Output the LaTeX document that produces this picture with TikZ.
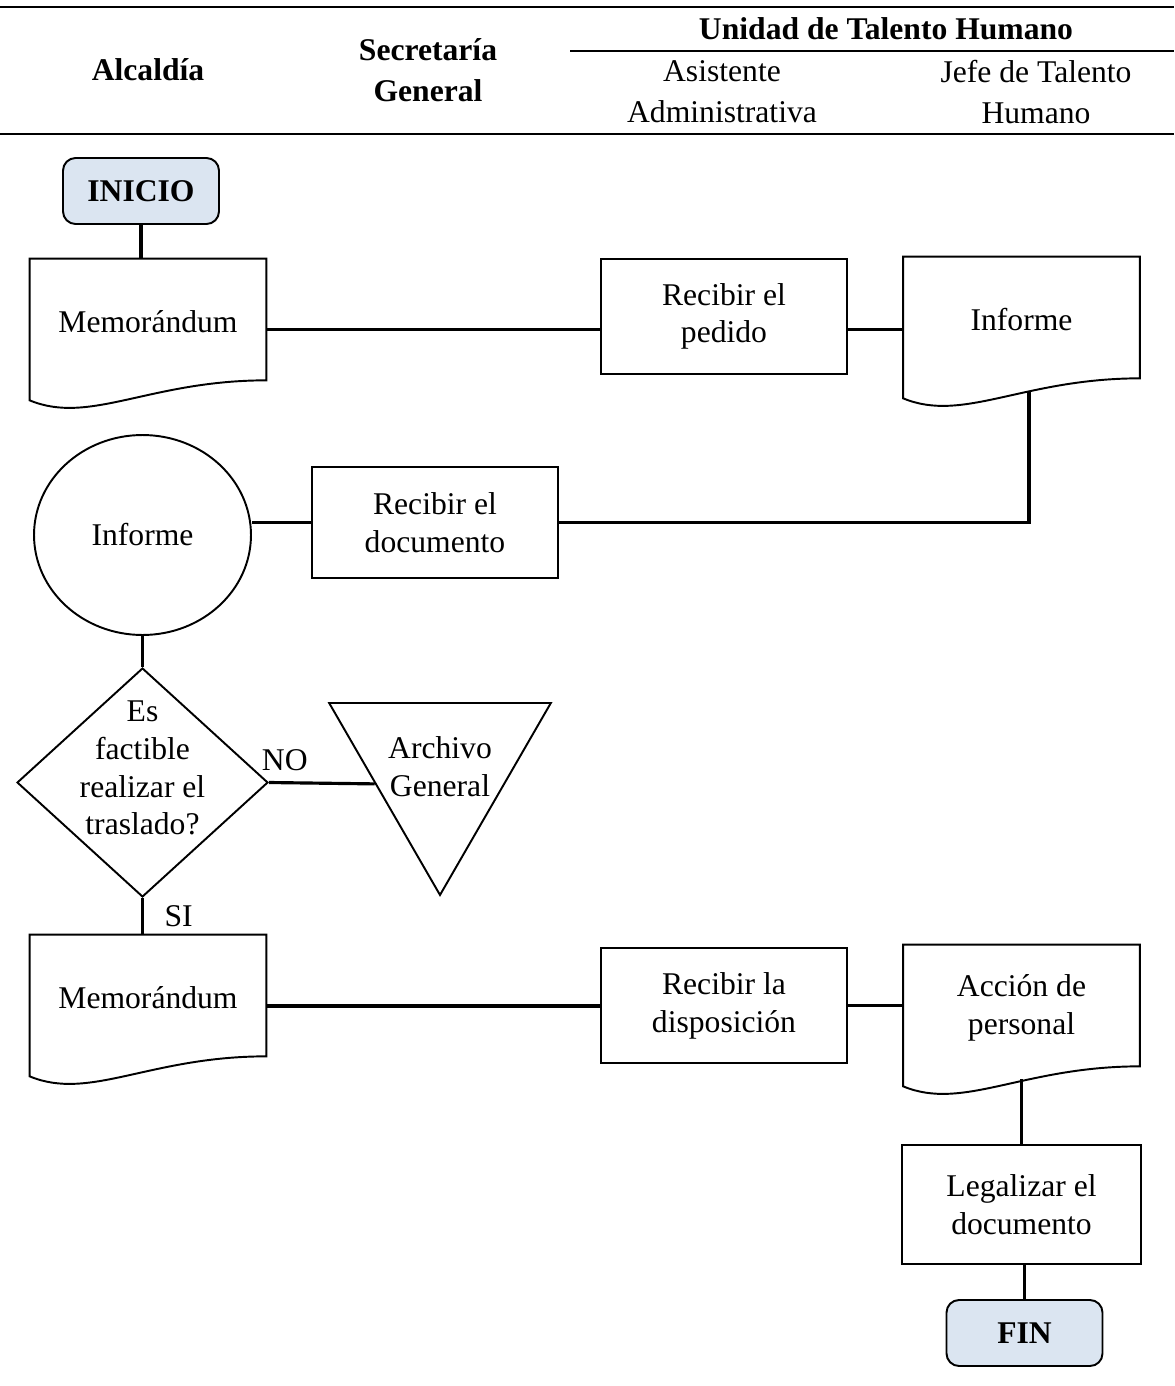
\documentclass[tikz,border=0pt]{standalone}
\usepackage{fontspec}
\setmainfont{Liberation Serif}
\usepackage{tikz}
\usetikzlibrary{positioning,shapes.geometric,calc}
\definecolor{startfill}{HTML}{DBE5F1}
\tikzstyle{shapeline} = [line width=1.1pt]
\tikzstyle{process} = [rectangle, draw=black, shapeline, minimum width=4.92cm, minimum height=2.3cm, text centered, align=center]
\tikzstyle{terminal} = [rectangle, rounded corners=0.25cm, draw=black, fill=startfill, shapeline, minimum width=3.12cm, minimum height=1.32cm, font=\bfseries]
\tikzstyle{doc} = [rectangle, minimum width=4.72cm, minimum height=2.5cm, text centered, align=center]
\tikzstyle{decision} = [diamond, draw=black, shapeline, minimum width=5.02cm, minimum height=4.58cm, inner sep=0pt]
\tikzstyle{archive} = [regular polygon, regular polygon sides=3, shape border rotate=180, draw=black, shapeline, minimum size=5.12cm, inner sep=0pt]
\tikzstyle{storage} = [ellipse, draw=black, shapeline, minimum width=4.34cm, minimum height=4cm]
\tikzstyle{line} = [draw, line width=1.8pt]
\tikzstyle{rule} = [line width=1.7pt]
\tikzstyle{head} = [align=center, font=\fontsize{18}{23.5}\selectfont]
\tikzstyle{headbold} = [align=center, font=\fontsize{18}{23.5}\selectfont\bfseries]
% document symbol: box with a wavy bottom edge
\newcommand{\docshape}[1]{\draw[shapeline] (#1.north west) -- (#1.north east) -- ([yshift=0.08cm]#1.south east)
  .. controls ([xshift=2.4cm,yshift=0.08cm]#1.south west) and ([xshift=1.2cm,yshift=-0.82cm]#1.south west) .. ([yshift=-0.32cm]#1.south west) -- cycle;}

\begin{document}
\begin{tikzpicture}[x=0.02cm, y=-0.02cm, execute at begin picture={\fontsize{18}{21.5}\selectfont}]
			\useasboundingbox (0,0) rectangle (1174,1386);
			% Header
			\draw[rule] (0,7) -- (1174,7);
			\draw[rule] (570,51) -- (1174,51);
			\draw[rule] (0,134) -- (1174,134);
			\node[headbold] (alc) at (148,70) {Alcaldía};
			\node[headbold] (sec) at (428,70) {Secretaría\\General};
			\node[headbold] (uth) at (886,29) {Unidad de Talento Humano};
			\node[head] (asis) at (722,92) {Asistente\\Administrativa};
			\node[head] (jefe) at (1036,92) {Jefe de Talento\\Humano};
			% Place nodes
			\node[terminal] (inicio) at (141,191) {INICIO};
			\node[doc] (memo1) at (148,321.5) {Memorándum};
			\node[process] (recped) at (724,316.5) {Recibir el\\pedido};
			\node[doc] (inf) at (1021.5,319.5) {Informe};
			\node[storage] (circ) at (142.5,535) {Informe};
			\node[process, minimum height=2.22cm] (recdoc) at (435,522.5) {Recibir el\\documento};
			\node[decision, label={[align=center, yshift=0.29cm]center:{Es\\factible\\realizar el\\traslado?}}] (dec) at (142.5,782.5) {};
			\node[archive, label={[align=center]center:{Archivo\\General}}] (arch) at (440,767) {};
			\node[doc] (memo2) at (148,997.5) {Memorándum};
			\node[process] (recdisp) at (724,1005.5) {Recibir la\\disposición};
			\node[doc] (acc) at (1021.5,1007.5) {Acción de\\personal};
			\node[process, minimum width=4.78cm, minimum height=2.38cm] (legal) at (1021.5,1204.5) {Legalizar el\\documento};
			\node[terminal] (fin) at (1024.5,1333) {FIN};
			\docshape{memo1}
			\docshape{inf}
			\docshape{memo2}
			\docshape{acc}
			% Draw edges
			\path [line] (inicio.south) -- (inicio.south |- memo1.north);
			\path [line] ([yshift=-0.16cm]memo1.east) -- ([yshift=-0.16cm]memo1.east -| recped.west);
			\path [line] ([yshift=-0.2cm]inf.west -| recped.east) -- ([yshift=-0.2cm]inf.west);
			\path [line] ([xshift=0.15cm,yshift=-0.18cm]inf.south) |- (recdoc.east);
			\path [line] (recdoc.west) -- (recdoc.west -| circ.east);
			\path [line] (circ.south) -- (dec.north);
			\path [line] (dec.east) -- node [above, pos=0.15] {NO} ($(arch.corner 3)!0.42!(arch.corner 1)$);
			\path [line] (dec.south) -- node [right=0.2cm] {SI} (dec.south |- memo2.north);
			\path [line] ([yshift=-0.17cm]memo2.east) -- ([yshift=-0.17cm]memo2.east -| recdisp.west);
			\path [line] (recdisp.east) -- (recdisp.east -| acc.west);
			\path [line] ([yshift=-0.18cm]acc.south) -- (legal.north);
			\path [line] (fin.north |- legal.south) -- (fin.north);
\end{tikzpicture}
\end{document}
